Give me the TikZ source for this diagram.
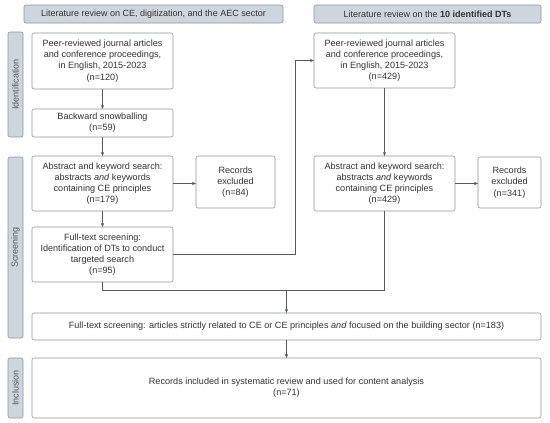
\documentclass[tikz,border=0pt]{standalone}
\usepackage{fontspec}
\setmainfont{Liberation Sans}
\usetikzlibrary{arrows.meta}
\definecolor{bordercol}{HTML}{8E959C}
\definecolor{headfill}{HTML}{CFD5DC}
\definecolor{textcol}{HTML}{333333}
\definecolor{linecol}{HTML}{5A5A5A}
\tikzset{
  every node/.style={inner sep=0pt, outer sep=0pt},
  boxnode/.style={draw=bordercol, line width=0.6pt, fill=white, rounded corners=2pt, align=center, text=textcol, font=\fontsize{9.1}{11.2}\selectfont, anchor=north west},
  headnode/.style={boxnode, fill=headfill, font=\fontsize{9}{11}\selectfont},
  sidenode/.style={draw=bordercol, line width=0.6pt, fill=headfill, rounded corners=2pt, text=linecol, font=\fontsize{9}{11}\selectfont, rotate=90, anchor=center},
  conn/.style={draw=linecol, line width=0.6pt},
  arr/.style={conn, -{Stealth[length=4pt,width=3.2pt]}}
}
\begin{document}
\begin{tikzpicture}[x=1pt,y=-1pt]
\useasboundingbox (0,0) rectangle (550,423);
% headers
\node[headnode, minimum width=259pt, minimum height=18pt] (hl) at (24,5) {Literature review on CE, digitization, and the AEC sector};
\node[headnode, minimum width=227pt, minimum height=18pt] (hr) at (314,5) {Literature review on the \textbf{10 identified DTs}};
% side labels
\node[sidenode, minimum width=105pt, minimum height=15pt] (sid) at (15.5,84.5) {Identification};
\node[sidenode, minimum width=181pt, minimum height=15pt] (ssc) at (15.5,247.5) {Screening};
\node[sidenode, minimum width=60pt, minimum height=15pt] (sin) at (15.5,388) {Inclusion};
% left column
\node[boxnode, minimum width=141pt, minimum height=56pt] (b1) at (32,33) {Peer-reviewed journal articles\\and conference proceedings,\\in English, 2015-2023\\(n=120)};
\node[boxnode, minimum width=141pt, minimum height=28pt] (b2) at (32,109) {Backward snowballing\\(n=59)};
\node[boxnode, minimum width=141pt, minimum height=55pt] (b3) at (32,156) {Abstract and keyword search:\\abstracts \textit{and} keywords\\containing CE principles\\(n=179)};
\node[boxnode, minimum width=141pt, minimum height=55pt] (b4) at (32,227) {Full-text screening:\\Identification of DTs to conduct\\targeted search\\(n=95)};
\node[boxnode, minimum width=79pt, minimum height=52pt] (e1) at (196,156) {Records\\excluded\\(n=84)};
% right column
\node[boxnode, minimum width=141pt, minimum height=55pt] (r1) at (314,33) {Peer-reviewed journal articles\\and conference proceedings,\\in English, 2015-2023\\(n=429)};
\node[boxnode, minimum width=141pt, minimum height=55pt] (r2) at (314,156) {Abstract and keyword search:\\abstracts \textit{and} keywords\\containing CE principles\\(n=429)};
\node[boxnode, minimum width=63pt, minimum height=51pt] (e2) at (478,157) {Records\\excluded\\(n=341)};
% bottom
\node[boxnode, minimum width=509pt, minimum height=27pt] (ft) at (32,313) {Full-text screening: articles strictly related to CE or CE principles \textit{and} focused on the building sector (n=183)};
\node[boxnode, minimum width=509pt, minimum height=60pt] (inc) at (32,358) {Records included in systematic review and used for content analysis\\(n=71)};
% connectors
\coordinate (turn) at (295,254.5);
\coordinate (j) at (286.5,290);
\draw[arr] (b1.south) -- (b2.north);
\draw[arr] (b2.south) -- (b3.north);
\draw[arr] (b3.east) -- (e1.west |- b3.east);
\draw[arr] (b3.south) -- (b4.north);
\draw[arr] (b4.east) -- (turn) |- (r1.west);
\draw[arr] (r1.south) -- (r2.north);
\draw[arr] (r2.east) -- (e2.west |- r2.east);
\draw[conn] (b4.south) |- (j);
\draw[conn] (r2.south) |- (j);
\draw[arr] (j) -- (ft.north);
\draw[arr] (ft.south) -- (inc.north);
\end{tikzpicture}
\end{document}
